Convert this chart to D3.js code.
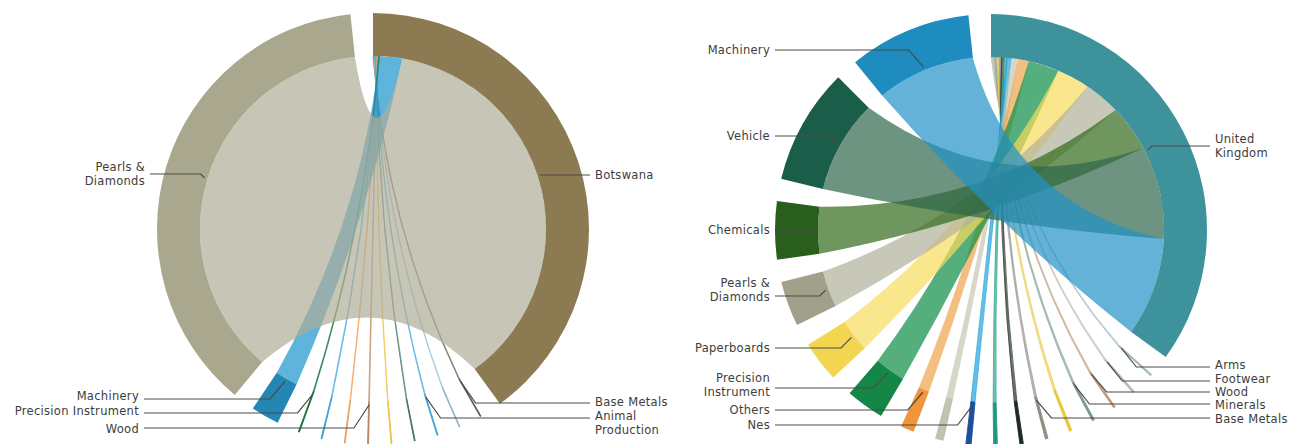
<!DOCTYPE html>
<html><head><meta charset="utf-8">
<script src="https://cdn.jsdelivr.net/npm/d3@7"></script>
<style>
body{margin:0;background:#fff}
svg{display:block}
text{font-family:"DejaVu Sans",sans-serif;font-size:11.5px;fill:#3d3d3d;letter-spacing:0.3px}
</style>
</head><body>
<svg id="chart" width="1298" height="444"></svg>
<script>
// ---------- DATA ----------
// Left diagram: Botswana and its products (clockwise after Botswana)
const leftCountry = "Botswana";
const leftProducts = ["Base Metals","Unlabelled L2","Animal Production","Unlabelled L4","Unlabelled L5","Wood","Unlabelled L7","Unlabelled L8","Precision Instrument","Machinery","Pearls & Diamonds"];
const leftValues   = [0.26,0.22,0.26,0.22,0.22,0.26,0.22,0.26,0.28,7.6,134.2];

// Right diagram: United Kingdom and its products (clockwise after United Kingdom)
const rightCountry = "United Kingdom";
const rightProducts = ["Arms","Footwear","Wood","Minerals","Unlabelled R5","Base Metals","Unlabelled R7","Unlabelled R8","Nes","Unlabelled R10","Others","Precision Instrument","Paperboards","Pearls & Diamonds","Chemicals","Vehicle","Machinery"];
const rightValues   = [0.4,0.5,0.5,0.6,0.7,0.7,0.9,1.0,1.4,2.3,3.6,10.3,11.0,12.2,15.6,31.3,33.0];

// ---------- STYLES ----------
const leftRing   = ["#8c7b52","#5f5f58","#8fb3c4","#3aa3d3","#3f6f66","#e9c040","#b5815c","#ee9b55","#3a9fd6","#166b3a","#2386b3","#a9a88f"];
const leftRibbon = [null,"#6f6f66","#9fc3d4","#4fb3e0","#4f7f74","#eec650","#c2906c","#f2a464","#4aaee0","#1a7540","#1b94cd","#aeac97"];

const rightRing   = ["#3e929b","#9fb6c2","#b9b9ad","#b89a7c","#7c9a86","#e8c93c","#8e8e84","#1f2b22","#1f9a80","#1f4f9c","#c2c2b0","#ef953b","#148746","#f4d552","#a1a08b","#2a5e1c","#1a5e4a","#1f8cbf"];
const rightRibbon = [null,"#a9c1cc","#c4c4b8","#c2a98e","#8ea896","#ecd058","#9a9a90","#2a372d","#2fa58b","#22a2db","#c6c6b1","#f1a24c","#0c8d45","#f8db5b","#b0b09b","#30691a","#2d664a","#2291c6"];

// label layout (text lines, anchor position, leader height)
const leftLabels = [
  {group:"Pearls & Diamonds", lines:["Pearls &","Diamonds"], x:145, y:167, anchor:"end", ly:174},
  {group:"Botswana", lines:["Botswana"], x:595, y:175, anchor:"start", ly:175},
  {group:"Machinery", lines:["Machinery"], x:139, y:396, anchor:"end", ly:399},
  {group:"Precision Instrument", lines:["Precision Instrument"], x:139, y:411, anchor:"end", ly:413},
  {group:"Wood", lines:["Wood"], x:139, y:429, anchor:"end", ly:428},
  {group:"Base Metals", lines:["Base Metals"], x:595, y:402, anchor:"start", ly:403},
  {group:"Animal Production", lines:["Animal","Production"], x:595, y:416, anchor:"start", ly:418}
];
const rightLabels = [
  {group:"Machinery", lines:["Machinery"], x:770, y:50, anchor:"end", ly:50},
  {group:"Vehicle", lines:["Vehicle"], x:770, y:136, anchor:"end", ly:136},
  {group:"Chemicals", lines:["Chemicals"], x:770, y:230, anchor:"end", ly:230},
  {group:"Pearls & Diamonds", lines:["Pearls &","Diamonds"], x:770, y:283, anchor:"end", ly:296},
  {group:"Paperboards", lines:["Paperboards"], x:770, y:348, anchor:"end", ly:348},
  {group:"Precision Instrument", lines:["Precision","Instrument"], x:770, y:378, anchor:"end", ly:388},
  {group:"Others", lines:["Others"], x:770, y:410, anchor:"end", ly:410},
  {group:"Nes", lines:["Nes"], x:770, y:425, anchor:"end", ly:425},
  {group:"United Kingdom", lines:["United","Kingdom"], x:1215, y:139, anchor:"start", ly:146},
  {group:"Arms", lines:["Arms"], x:1215, y:365, anchor:"start", ly:367},
  {group:"Footwear", lines:["Footwear"], x:1215, y:379, anchor:"start", ly:381},
  {group:"Wood", lines:["Wood"], x:1215, y:392, anchor:"start", ly:392},
  {group:"Minerals", lines:["Minerals"], x:1215, y:405, anchor:"start", ly:404},
  {group:"Base Metals", lines:["Base Metals"], x:1215, y:419, anchor:"start", ly:418}
];

// ---------- DRAW ----------
const R_IN = 173, R_OUT = 216, PAD = 6 * Math.PI / 180, K = 0.3;
const svg = d3.select("#chart");

function ribbonPath(d, r, k) {
  const p = d3.path();
  const off = -Math.PI / 2;
  const s0 = d.source.startAngle + off, s1 = d.source.endAngle + off;
  const t0 = d.target.startAngle + off, t1 = d.target.endAngle + off;
  const pt = a => [r * Math.cos(a), r * Math.sin(a)];
  const S0 = pt(s0), S1 = pt(s1), T0 = pt(t0), T1 = pt(t1);
  p.moveTo(S0[0], S0[1]);
  p.arc(0, 0, r, s0, s1);
  p.quadraticCurveTo(k * (S1[0] + T0[0]) / 2, k * (S1[1] + T0[1]) / 2, T0[0], T0[1]);
  p.arc(0, 0, r, t0, t1);
  p.quadraticCurveTo(k * (T1[0] + S0[0]) / 2, k * (T1[1] + S0[1]) / 2, S0[0], S0[1]);
  p.closePath();
  return p.toString();
}

function drawChart(cx, cy, country, products, values, ringColors, ribbonColors, labels) {
  const names = [country, ...products];
  const matrix = names.map((_, i) => names.map((_, j) =>
    (i === 0 && j > 0) ? values[j - 1] : (j === 0 && i > 0 ? values[i - 1] : 0)));
  const chords = d3.chord().padAngle(PAD)(matrix);
  const arc = d3.arc().innerRadius(R_IN).outerRadius(R_OUT);
  const root = svg.append("g").attr("transform", `translate(${cx},${cy})`);
  const pIdx = d => Math.max(d.source.index, d.target.index);
  const sorted = Array.from(chords).sort((a, b) => pIdx(a) - pIdx(b));

  root.selectAll("path.ribbon").data(sorted).join("path")
    .attr("class", "ribbon")
    .attr("d", d => ribbonPath(d, R_IN, K))
    .attr("fill", d => ribbonColors[pIdx(d)])
    .attr("fill-opacity", 0.7)
    .attr("stroke", d => values[pIdx(d) - 1] < 1.5 ? ribbonColors[pIdx(d)] : "none")
    .attr("stroke-opacity", 0.75)
    .attr("stroke-width", 0.9);

  root.selectAll("path.group").data(chords.groups).join("path")
    .attr("class", "group")
    .attr("d", arc)
    .attr("fill", d => ringColors[d.index])
    .attr("stroke", d => d.index > 0 && values[d.index - 1] < 1.5 ? ringColors[d.index] : "none")
    .attr("stroke-width", 0.9);

  const lg = svg.append("g");
  labels.forEach(l => {
    const gi = names.indexOf(l.group);
    const grp = chords.groups[gi];
    const mid = (grp.startAngle + grp.endAngle) / 2;
    const tx = cx + (R_IN + 3) * Math.sin(mid);
    const ty = cy - (R_IN + 3) * Math.cos(mid);
    const dir = l.anchor === "end" ? 1 : -1;
    const sx = l.x + dir * 5;
    const bend = Math.min(Math.abs(ty - l.ly), 15);
    lg.append("path")
      .attr("d", `M${sx},${l.ly}H${tx - dir * bend}L${tx},${ty}`)
      .attr("fill", "none").attr("stroke", "#4a4a4a").attr("stroke-width", 1.2);
    const t = lg.append("text").attr("text-anchor", l.anchor);
    l.lines.forEach((line, i) => {
      t.append("tspan").attr("x", l.x).attr("y", l.y + 4 + i * 14).text(line);
    });
  });
}

drawChart(373, 229, leftCountry, leftProducts, leftValues, leftRing, leftRibbon, leftLabels);
drawChart(991, 230, rightCountry, rightProducts, rightValues, rightRing, rightRibbon, rightLabels);
</script>
</body></html>
